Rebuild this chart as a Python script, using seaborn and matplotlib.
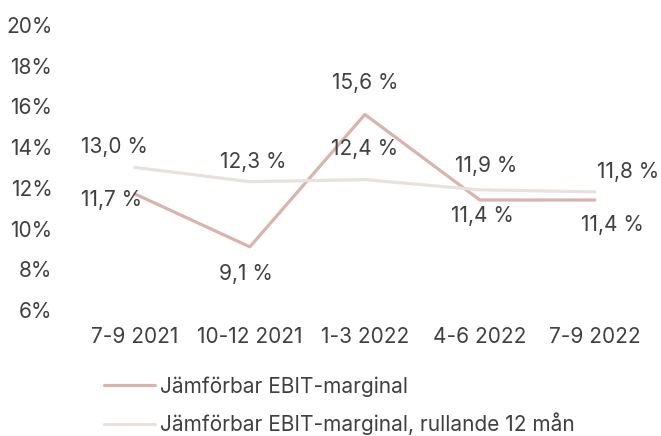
import matplotlib
matplotlib.use("Agg")
import matplotlib.pyplot as plt
import seaborn as sns
import pandas as pd
from matplotlib.lines import Line2D

categories = ["7-9 2021", "10-12 2021", "1-3 2022", "4-6 2022", "7-9 2022"]
ebit_margin = [11.7, 9.1, 15.6, 11.4, 11.4]
ebit_rolling = [13.0, 12.3, 12.4, 11.9, 11.8]
series_names = ["Jämförbar EBIT-marginal", "Jämförbar EBIT-marginal, rullande 12 mån"]
y_ticks = [6, 8, 10, 12, 14, 16, 18, 20]

sns.set_theme(style="white")
plt.rcParams["font.family"] = ["Inter", "DejaVu Sans"]

colors = ["#d8b4ab", "#e7e2dd"]
text_color = "#404040"
fs = 15

df = pd.DataFrame({
    "period": categories * 2,
    "value": ebit_margin + ebit_rolling,
    "series": [series_names[0]] * 5 + [series_names[1]] * 5,
})

fig = plt.figure(figsize=(6.61, 4.36), dpi=100)
ax = fig.add_axes([0.117, 0.289, 0.870, 0.654])
sns.lineplot(data=df, x="period", y="value", hue="series", palette=colors,
             linewidth=2.3, ax=ax, legend=False, sort=False)

# label offsets in pixels (dx, dy; dy positive = up)
off1 = [(-23, -6), (-4, -27), (0, 31), (3, -16), (18, -25)]
off2 = [(-20, 20), (3, 20), (0, 31), (6, 24), (33, 20)]
for vals, offs in [(ebit_margin, off1), (ebit_rolling, off2)]:
    for i, (v, o) in enumerate(zip(vals, offs)):
        ax.annotate(f"{v:.1f} %".replace(".", ","), (i, v), xytext=o,
                    textcoords="offset pixels", ha="center", va="center",
                    fontsize=fs, color=text_color)

ax.set_xlim(-0.5, 4.5)
ax.set_ylim(6, 20)
ax.set_yticks(y_ticks)
ax.set_yticklabels([f"{t}%" for t in y_ticks])
ax.set_xlabel("")
ax.set_ylabel("")
ax.tick_params(axis="both", length=0, labelsize=fs, colors=text_color)
ax.tick_params(axis="x", pad=12)
ax.tick_params(axis="y", pad=18)
for s in ax.spines.values():
    s.set_visible(False)

handles = [Line2D([], [], color=c, linewidth=2.3) for c in colors]
fig.legend(handles, series_names, loc="upper left",
           bbox_to_anchor=(104 / 661, 1 - 376 / 436), frameon=False,
           fontsize=fs, handlelength=2.45, handletextpad=0.25,
           labelspacing=0.75, labelcolor=text_color, borderaxespad=0,
           borderpad=0)

fig.savefig("out.png", dpi=100)
